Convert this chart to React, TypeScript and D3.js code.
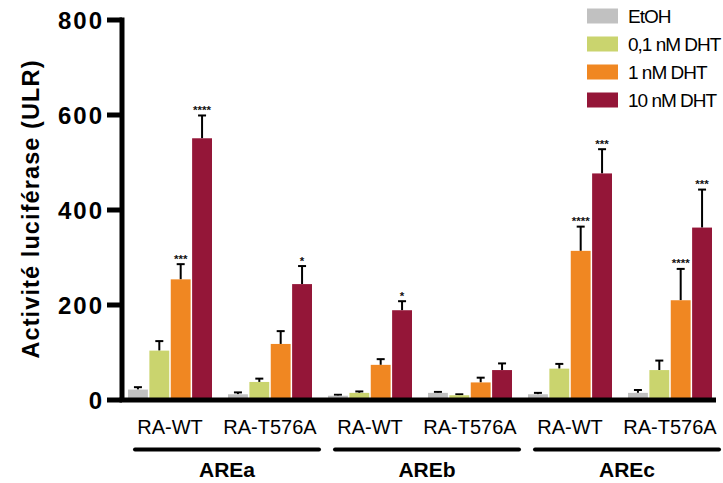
import React from "react";
import * as d3 from "d3";

const categories = ["RA-WT", "RA-T576A", "RA-WT", "RA-T576A", "RA-WT", "RA-T576A"];
const groupNames = ["AREa", "AREb", "AREc"];
const seriesNames = ["EtOH", "0,1 nM DHT", "1 nM DHT", "10 nM DHT"];
const seriesColors = ["#c1c1c1", "#cad46e", "#f08722", "#941638"];

const etoh = [22, 12, 9, 15, 12, 15];
const etohErr = [5, 4, 2, 2, 3, 6];
const dht01 = [104, 38, 15, 10, 66, 63];
const dht01Err = [20, 7, 3, 2, 10, 20];
const dht1 = [254, 118, 74, 37, 314, 210];
const dht1Err = [32, 27, 12, 10, 51, 66];
const dht10 = [551, 244, 189, 63, 477, 363];
const dht10Err = [48, 38, 19, 14, 51, 80];

const stars = [
  ["", "", "***", "****"],
  ["", "", "", "*"],
  ["", "", "", "*"],
  ["", "", "", ""],
  ["", "", "****", "***"],
  ["", "", "****", "***"],
];

const yTicks = [0, 200, 400, 600, 800];

const W = 723;
const H = 483;

export default function App() {
  const values = [etoh, dht01, dht1, dht10];
  const errors = [etohErr, dht01Err, dht1Err, dht10Err];
  const idx = categories.map((_, i) => i);

  const y = d3.scaleLinear().domain([0, 800]).range([400, 20]);
  const x0 = d3
    .scaleBand<number>()
    .domain(idx)
    .range([120, 720])
    .paddingInner(0.16)
    .paddingOuter(0.08);
  const x1 = d3
    .scaleBand<number>()
    .domain([0, 1, 2, 3])
    .range([0, x0.bandwidth()])
    .paddingInner(0.07);

  const axisX = 122;
  const font = "Arial, 'Liberation Sans', Helvetica, sans-serif";

  return (
    <div style={{ position: "absolute", left: 0, top: 0 }}>
      <svg width={W} height={H} style={{ display: "block", background: "#fff" }} fontFamily={font}>
        {/* bars */}
        {idx.map((g) =>
          values.map((arr, s) => {
            const bx = (x0(g) as number) + (x1(s) as number);
            const bw = x1.bandwidth();
            const v = arr[g];
            const e = errors[s][g];
            const cx = bx + bw / 2;
            return (
              <g key={`b${g}-${s}`}>
                <line x1={cx} x2={cx} y1={y(v)} y2={y(v + e)} stroke="#000" strokeWidth={2} />
                <line x1={cx - 4} x2={cx + 4} y1={y(v + e)} y2={y(v + e)} stroke="#000" strokeWidth={2} />
                <rect x={bx} y={y(v)} width={bw} height={y(0) - y(v)} fill={seriesColors[s]} />
                {stars[g][s] ? (
                  <text
                    x={cx}
                    y={y(v + e) - 1.5}
                    textAnchor="middle"
                    fontSize={11.5}
                    fontWeight="bold"
                    fill="#111"
                  >
                    {stars[g][s]}
                  </text>
                ) : null}
              </g>
            );
          })
        )}

        {/* y axis */}
        <line x1={axisX} x2={axisX} y1={y(800) - 2.5} y2={y(0)} stroke="#000" strokeWidth={5} />
        {yTicks.map((t) => (
          <g key={`t${t}`}>
            <line x1={107} x2={axisX} y1={y(t)} y2={y(t)} stroke="#000" strokeWidth={5} />
            <text
              x={104}
              y={y(t) + 8.5}
              textAnchor="end"
              fontSize={24}
              fontWeight="bold"
              letterSpacing={2}
              fill="#000"
            >
              {t}
            </text>
          </g>
        ))}
        {/* x axis */}
        <line x1={axisX - 2.5} x2={716} y1={y(0)} y2={y(0)} stroke="#000" strokeWidth={5} />

        {/* y label */}
        <text
          transform={`translate(39, 209) rotate(-90)`}
          textAnchor="middle"
          fontSize={23.5}
          fontWeight="bold"
          letterSpacing={1.1}
          fill="#000"
        >
          Activité luciférase (ULR)
        </text>

        {/* category labels */}
        {idx.map((g) => (
          <text
            key={`c${g}`}
            x={(x0(g) as number) + x0.bandwidth() / 2}
            y={434}
            textAnchor="middle"
            fontSize={20}
            fill="#000"
          >
            {categories[g]}
          </text>
        ))}

        {/* group brackets */}
        {groupNames.map((name, k) => {
          const a = (x0(k * 2) as number) + 7;
          const b = (x0(k * 2 + 1) as number) + x0.bandwidth() + 7;
          return (
            <g key={`g${k}`}>
              <line x1={a} x2={b} y1={449.5} y2={449.5} stroke="#000" strokeWidth={4} strokeLinecap="round" />
              <text x={(a + b) / 2} y={477} textAnchor="middle" fontSize={21} fontWeight="bold" fill="#000">
                {name}
              </text>
            </g>
          );
        })}

        {/* legend */}
        {seriesNames.map((name, s) => {
          const cy = 16 + s * 28;
          return (
            <g key={`l${s}`}>
              <rect x={587} y={cy - 7.5} width={31} height={15} fill={seriesColors[s]} />
              <text x={628} y={cy + 7} fontSize={19} letterSpacing={-1} fill="#000">
                {name}
              </text>
            </g>
          );
        })}
      </svg>
    </div>
  );
}
